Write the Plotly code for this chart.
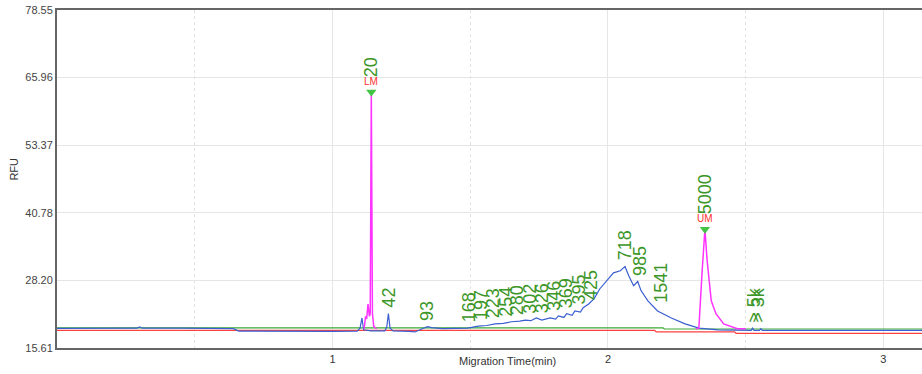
import plotly.graph_objects as go

# ---------------- data ----------------
blue_t = [0.00, 0.20, 0.29, 0.30, 0.31, 0.45, 0.55, 0.64, 0.66, 0.80, 1.00, 1.09,
          1.100, 1.107, 1.113, 1.14, 1.19, 1.197, 1.203, 1.209, 1.22, 1.28, 1.30, 1.33,
          1.345, 1.36, 1.40, 1.49, 1.53, 1.56, 1.59, 1.62, 1.65, 1.68, 1.70, 1.72,
          1.74, 1.76, 1.79, 1.81, 1.82, 1.84, 1.85, 1.87, 1.88, 1.90, 1.91, 1.93,
          1.95, 1.97, 2.00, 2.02, 2.045, 2.062, 2.075, 2.093, 2.108, 2.12, 2.145, 2.18,
          2.23, 2.28, 2.33, 2.40, 2.52, 2.525, 2.53, 2.55, 2.555, 2.56, 2.70, 2.85,
          3.00, 3.14]
blue_v = [19.25, 19.25, 19.3, 19.55, 19.3, 19.3, 19.3, 19.2, 18.75, 18.7, 18.7, 18.75,
          19.3, 21.2, 19.0, 18.8, 18.8, 19.5, 22.0, 19.3, 18.8, 18.7, 18.6, 19.3,
          19.6, 19.4, 19.2, 19.3, 19.7, 19.8, 20.1, 20.2, 20.5, 20.6, 20.8, 20.7,
          21.2, 20.8, 21.2, 21.0, 21.6, 21.3, 22.0, 21.7, 22.5, 22.3, 23.1, 23.8,
          24.8, 26.6, 28.5, 29.6, 30.0, 30.8, 29.1, 27.2, 28.0, 26.3, 24.4, 22.5,
          21.2, 20.1, 19.3, 19.0, 18.9, 19.3, 18.9, 18.9, 19.2, 18.9, 18.9, 18.95,
          18.9, 18.9]

magenta_t = [1.115, 1.120, 1.124, 1.129, 1.134, 1.137, 1.141, 1.145, 1.150, 1.160,
             None,
             2.320, 2.330, 2.342, 2.352, 2.360, 2.375, 2.392, 2.420, 2.470, 2.500]
magenta_v = [19.2, 21.5, 21.0, 23.8, 21.5, 22.0, 63.3, 22.0, 19.6, 19.2,
             None,
             19.2, 19.3, 30.0, 37.7, 31.9, 24.4, 22.0, 20.1, 19.2, 19.2]

green_t = [0.00, 2.20, 2.205, 3.14]
green_v = [19.35, 19.35, 19.15, 19.15]

red_t = [0.00, 2.17, 2.175, 2.46, 2.465, 3.14]
red_v = [18.9, 18.9, 18.6, 18.6, 18.35, 18.35]

peak_labels = ["20", "42", "93", "168", "197", "223", "254", "280", "302", "326",
               "346", "369", "395", "425", "718", "985", "1541", "5000", "> 5k", "> 3k"]
peak_times = [1.141, 1.205, 1.341, 1.496, 1.540, 1.583, 1.627, 1.670, 1.714, 1.761,
              1.804, 1.848, 1.895, 1.938, 2.065, 2.118, 2.192, 2.352, 2.530, 2.545]
peak_rfu = [63.3, 22.0, 19.6, 19.3, 19.75, 20.05, 20.35, 20.6, 20.9, 21.0,
            21.4, 21.9, 22.6, 23.4, 30.8, 28.0, 22.9, 37.7, 19.2, 19.2]

marker_names = ["LM", "UM"]
marker_times = [1.141, 2.352]
marker_rfu = [63.3, 37.7]

y_ticks = [15.61, 28.20, 40.78, 53.37, 65.96, 78.55]
y_tick_text = ["15.61", "28.20", "40.78", "53.37", "65.96", "78.55"]
x_ticks = [1, 2, 3]

# ---------------- figure ----------------
fig = go.Figure()
fig.add_trace(go.Scatter(x=red_t, y=red_v, mode="lines",
                         line=dict(color="#ff4040", width=1.2), hoverinfo="skip"))
fig.add_trace(go.Scatter(x=green_t, y=green_v, mode="lines",
                         line=dict(color="#3aaa35", width=1.2), hoverinfo="skip"))
fig.add_trace(go.Scatter(x=blue_t, y=blue_v, mode="lines",
                         line=dict(color="#3b5fd0", width=1.2), hoverinfo="skip"))
fig.add_trace(go.Scatter(x=magenta_t, y=magenta_v, mode="lines", connectgaps=False,
                         line=dict(color="#ff33ff", width=1.5), hoverinfo="skip"))
fig.add_trace(go.Scatter(x=marker_times, y=marker_rfu, mode="markers",
                         marker=dict(symbol="triangle-down", size=9, color="#44c444"),
                         hoverinfo="skip"))

annotations = []
marker_set = set(marker_times)
for lab, t, v in zip(peak_labels, peak_times, peak_rfu):
    shift = 14 if t in marker_set else 5
    annotations.append(dict(x=t, y=v, xref="x", yref="y", text=lab, showarrow=False,
                            textangle=-90, xanchor="center", yanchor="bottom",
                            yshift=shift, borderpad=0,
                            font=dict(family="Arial, Liberation Sans", size=18,
                                      color="#3c9628")))
for name, t, v in zip(marker_names, marker_times, marker_rfu):
    annotations.append(dict(x=t, y=v, xref="x", yref="y", text=name, showarrow=False,
                            xanchor="center", yanchor="bottom", yshift=4, borderpad=0,
                            font=dict(family="Arial, Liberation Sans", size=10,
                                      color="#ff3030")))
annotations.append(dict(x=480 / 922, y=-0.015, xref="paper", yref="paper",
                        xanchor="center", yanchor="top",
                        text="Migration Time(min)", showarrow=False,
                        font=dict(family="Arial, Liberation Sans", size=11, color="#333")))
annotations.append(dict(x=-0.05, y=0.53, xref="paper", yref="paper",
                        xanchor="center", yanchor="middle", textangle=-90,
                        text="RFU", showarrow=False,
                        font=dict(family="Liberation Sans Narrow, Arial", size=11,
                                  color="#333")))

fig.update_layout(
    width=922, height=374,
    margin=dict(l=57, r=0, t=10, b=26),
    plot_bgcolor="white", paper_bgcolor="white",
    showlegend=False,
    annotations=annotations,
    font=dict(family="Arial, Liberation Sans", size=11, color="#333"),
    xaxis=dict(range=[0, 3.14], tickvals=x_ticks, ticktext=[str(v) for v in x_ticks],
               showgrid=True, gridcolor="#e6e6e6", gridwidth=1,
               minor=dict(dtick=0.5, tick0=0, showgrid=True, gridcolor="#e2e2e2",
                          griddash="dot", gridwidth=1),
               showline=True, linecolor="#666", linewidth=2, mirror=True,
               ticks="", zeroline=False, automargin=False,
               tickfont=dict(size=11, color="#333")),
    yaxis=dict(range=[15.61, 78.55], tickvals=y_ticks, ticktext=y_tick_text,
               showgrid=True, gridcolor="#e6e6e6", gridwidth=1,
               showline=True, linecolor="#666", linewidth=2,
               ticks="", zeroline=False, automargin=False,
               tickfont=dict(size=11, color="#444")),
)

fig.write_html("out.html")
